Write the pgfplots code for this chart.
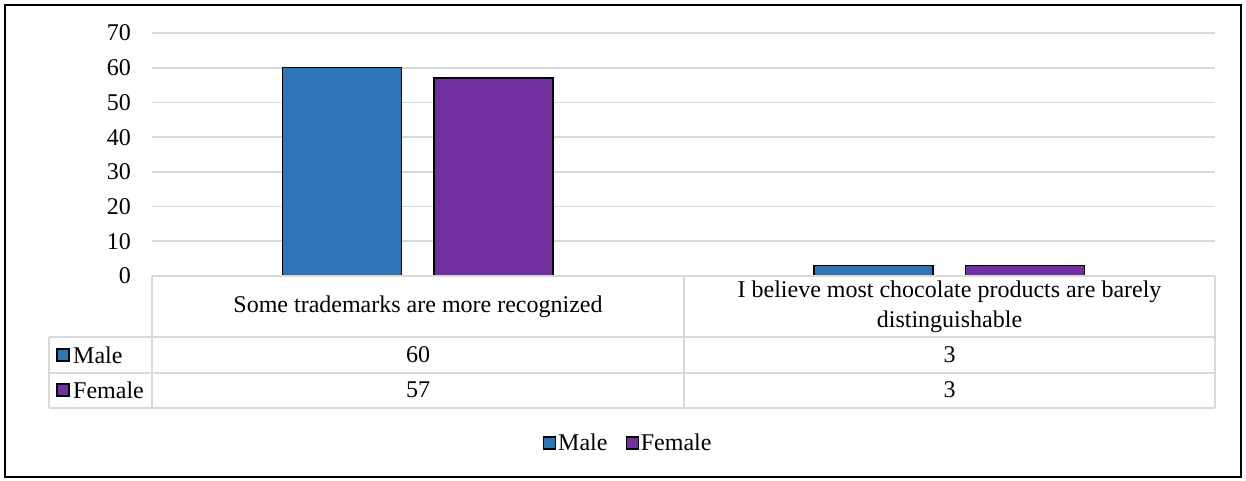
\documentclass[border=0pt]{standalone}
\usepackage{fontspec}
\setmainfont{Liberation Serif}
\usepackage{pgfplots}
\pgfplotsset{compat=1.18}
\definecolor{maleblue}{HTML}{2E75B6}
\definecolor{femalepurple}{HTML}{7030A0}
\definecolor{gridgray}{HTML}{D9D9D9}
\newcommand{\fs}{\fontsize{24}{30}\selectfont}
\begin{document}
\begin{tikzpicture}[x=1pt,y=1pt]
\path[use as bounding box] (0,0) rectangle (1246,480);
\begin{axis}[
  at={(152pt,204pt)}, anchor=south west,
  scale only axis, width=1063pt, height=243pt,
  xmin=-0.5, xmax=1.5, ymin=0, ymax=70,
  ytick={0,10,...,70}, xtick=\empty,
  axis line style={draw=none},
  ymajorgrids, grid style={gridgray, line width=1.6pt},
  major tick length=0pt,
  /pgf/number format/assume math mode=true,
  yticklabel style={font=\fs, anchor=east, inner sep=0pt, xshift=-21pt},
  clip=false,
  legend style={at={(0.448,-0.687)}, anchor=center, draw=none, font=\fs,
    legend columns=2, inner sep=0pt,
    /tikz/every even column/.append style={column sep=16pt},
    legend cell align=left},
]
\addplot[ybar, bar width=0.224, bar shift=-0.1425, fill=maleblue, draw=black, line width=1.5pt,
  legend image code/.code={\draw[fill=maleblue,draw=black,line width=1.3pt] (0pt,-6pt) rectangle (12pt,6pt);}]
  coordinates {(0,60) (1,3)};
\addlegendentry{Male}
\addplot[ybar, bar width=0.224, bar shift=0.1425, fill=femalepurple, draw=black, line width=1.5pt,
  legend image code/.code={\draw[fill=femalepurple,draw=black,line width=1.3pt] (0pt,-6pt) rectangle (12pt,6pt);}]
  coordinates {(0,57) (1,3)};
\addlegendentry{Female}
\end{axis}
% data table
\begin{scope}[gridgray, line width=1.6pt]
\draw (152,204) -- (1215,204);
\draw (49,143) -- (1215,143);
\draw (49,107) -- (1215,107);
\draw (49,72) -- (1215,72);
\draw (152,204) -- (152,72);
\draw (684,204) -- (684,72);
\draw (1215,204) -- (1215,72);
\draw (49,143) -- (49,72);
\end{scope}
\node[font=\fs] at (418,173) {Some trademarks are more recognized};
\node[font=\fs, align=center, inner sep=0pt] at (949.5,173) {I believe most chocolate products are barely\\distinguishable};
\node[font=\fs] at (418,125) {60};
\node[font=\fs] at (949.5,125) {3};
\node[font=\fs] at (418,90) {57};
\node[font=\fs] at (949.5,90) {3};
\draw[fill=maleblue, draw=black, line width=1.3pt] (57,119) rectangle (69,131);
\node[font=\fs, anchor=west, inner sep=0pt] at (73,125) {Male};
\draw[fill=femalepurple, draw=black, line width=1.3pt] (57,84) rectangle (69,96);
\node[font=\fs, anchor=west, inner sep=0pt] at (73,90) {Female};
% outer border
\draw[line width=2pt] (5,3) rectangle (1241,475);
\end{tikzpicture}
\end{document}
